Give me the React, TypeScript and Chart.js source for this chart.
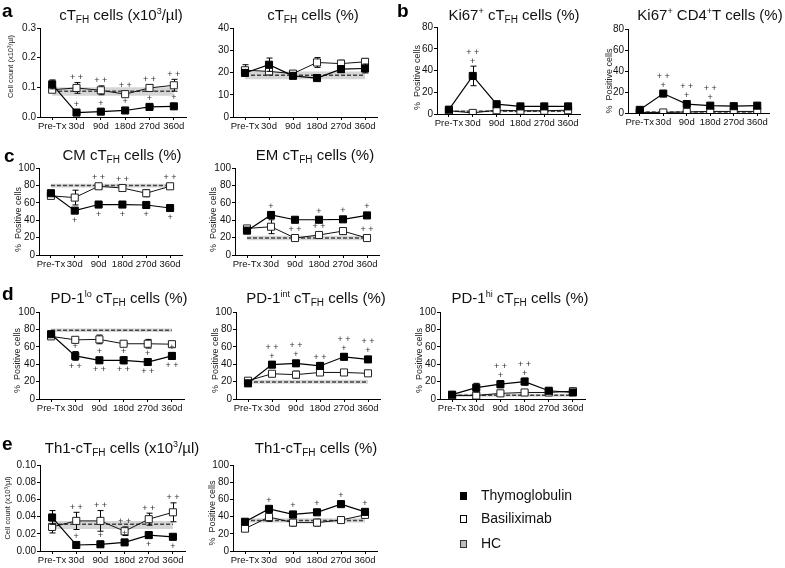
import React, { useEffect, useRef } from "react";
import { Chart, registerables } from "chart.js";

Chart.register(...registerables);

const FONT = '"Liberation Sans", Arial, Helvetica, sans-serif';

const timepoints = ["Pre-Tx", "30d", "90d", "180d", "270d", "360d"];

// a: cTFH cells (x10^3/µl)
const cTfhCountThymo = [0.11, 0.015, 0.018, 0.022, 0.034, 0.036];
const cTfhCountThymoErr = [0.015, 0.004, 0.004, 0.004, 0.005, 0.006];
const cTfhCountBasi = [0.092, 0.098, 0.09, 0.077, 0.098, 0.107];
const cTfhCountBasiErr = [0.008, 0.018, 0.015, 0.007, 0.01, 0.02];
const cTfhCountHC = [0.087, 0.072, 0.1];
const cTfhCountThymoAbove = ["", "+", "+", "+", "+", "+"];
const cTfhCountBasiAbove = ["", "++", "++", "++", "++", "++"];

// a: cTFH cells (%)
const cTfhPctThymo = [19.8, 23.5, 18.5, 17.5, 21.5, 21.8];
const cTfhPctThymoErr = [1.2, 3, 1.2, 1, 1.5, 2];
const cTfhPctBasi = [21, 20.5, 19.5, 24.5, 24, 24.8];
const cTfhPctBasiErr = [2.5, 1.5, 1.2, 2.2, 1.5, 1.5];
const cTfhPctHC = [18.8, 17, 20.5];

// b: Ki67+ cTFH cells (%)
const ki67TfhThymo = [4, 35, 9, 7, 7, 7];
const ki67TfhThymoErr = [1, 9, 1.5, 1, 1, 1];
const ki67TfhBasi = [3, 1, 3.5, 3, 3, 3.5];
const ki67TfhBasiErr = [0.5, 0.5, 1, 0.5, 0.5, 0.5];
const ki67TfhHC = [2.5, 1.5, 3.5];
const ki67TfhThymoAbove = ["", "++\n+", "", "", "", ""];

// b: Ki67+ CD4+T cells (%)
const ki67Cd4Thymo = [3, 18.5, 8.5, 7, 6.5, 7];
const ki67Cd4ThymoErr = [0.8, 1.5, 1, 1, 0.8, 0.8];
const ki67Cd4Basi = [0.5, 0.5, 1, 1.5, 1.5, 1.5];
const ki67Cd4BasiErr = [0.3, 0.3, 0.3, 0.4, 0.4, 0.4];
const ki67Cd4HC = [1, 0.5, 1.5];
const ki67Cd4ThymoAbove = ["", "++\n+", "++\n+", "++\n+", "", ""];

// c: CM cTFH cells (%)
const cmThymo = [71, 51, 58, 58, 57.5, 54];
const cmThymoErr = [2.5, 2, 2, 2, 2, 2.5];
const cmBasi = [68, 66, 79, 77, 71, 79];
const cmBasiErr = [2, 8.5, 2, 1.5, 4, 1.5];
const cmHC = [80, 77.5, 82];
const cmBasiAbove = ["", "", "++", "++", "", "++"];
const cmThymoBelow = ["", "+", "+", "+", "+", "+"];

// c: EM cTFH cells (%)
const emThymo = [28, 46, 40.5, 40.5, 41, 45.5];
const emThymoErr = [2, 4, 2, 2, 2, 2.5];
const emBasi = [30.5, 32.5, 19.5, 23, 27.5, 19.5];
const emBasiErr = [2, 8, 1.5, 1.5, 4, 1];
const emHC = [19.5, 17, 22];
const emThymoAbove = ["", "+", "", "+", "+", "+"];
const emBasiAbove = ["", "", "++", "++", "", "++"];

// d: PD-1lo cTFH cells (%)
const pdLoThymo = [74.5, 49.5, 44.5, 44.5, 42.5, 49.5];
const pdLoThymoErr = [2, 5, 3, 4, 3, 4];
const pdLoBasi = [72, 68, 68.5, 63.5, 63.5, 63];
const pdLoBasiErr = [1.5, 2, 5, 1.5, 5, 3];
const pdLoHC = [79, 77, 81];
const pdLoThymoAbove = ["", "+", "+", "+", "+", "+"];
const pdLoThymoBelow = ["", "++", "++", "++", "++", "++"];

// d: PD-1int cTFH cells (%)
const pdIntThymo = [18, 39.5, 41, 38, 48.5, 45.5];
const pdIntThymoErr = [1.5, 3.5, 3, 4, 3.5, 3];
const pdIntBasi = [21, 29, 28, 30.5, 30.5, 29.5];
const pdIntBasiErr = [1, 1.5, 4, 1.5, 3, 1];
const pdIntHC = [19.5, 17.5, 22];
const pdIntThymoAbove = ["", "++\n+", "++\n+", "++", "++\n+", "++\n+"];

// d: PD-1hi cTFH cells (%)
const pdHiThymo = [5, 13, 17, 20, 9.5, 7.5];
const pdHiThymoErr = [1, 5, 4, 4, 2, 1.5];
const pdHiBasi = [4, 4, 6.5, 7.5, 7.5, 9];
const pdHiBasiErr = [0.8, 1.5, 1, 1.5, 1, 1.5];
const pdHiHC = [4.2, 2.5, 6];
const pdHiThymoAbove = ["", "", "++\n+", "++\n+", "", ""];

// e: Th1-cTFH cells (x10^3/µl)
const th1CountThymo = [0.039, 0.007, 0.0078, 0.01, 0.0185, 0.0165];
const th1CountThymoErr = [0.008, 0.001, 0.0015, 0.002, 0.003, 0.002];
const th1CountBasi = [0.028, 0.035, 0.035, 0.023, 0.037, 0.045];
const th1CountBasiErr = [0.007, 0.01, 0.012, 0.005, 0.007, 0.011];
const th1CountHC = [0.031, 0.0255, 0.035];
const th1CountBasiAbove = ["", "++", "++", "++", "++", "++"];
const th1CountThymoAbove = ["", "+", "+", "+", "", ""];
const th1CountThymoBelow = ["", "", "", "", "+", "+"];

// e: Th1-cTFH cells (%)
const th1PctThymo = [34, 49, 42.5, 45, 54.5, 45.5];
const th1PctThymoErr = [1.5, 2.5, 3, 2.5, 2.5, 2];
const th1PctBasi = [26, 39.5, 33, 33, 36, 42];
const th1PctBasiErr = [1.5, 5, 4, 4, 1.5, 2];
const th1PctHC = [35.5, 33, 38];
const th1PctThymoAbove = ["", "+", "+", "+", "+", "+"];

type Spec = {
  area: [number, number, number, number];
  yMax: number;
  yStep: number;
  decimals: number;
  yTitle?: string;
  yTitleSize?: number;
  yTitleGap?: number;
  yTitleShift?: number;
  thymo: number[];
  thymoErr: number[];
  basi: number[];
  basiErr: number[];
  hc: number[];
  thymoAbove?: string[];
  thymoBelow?: string[];
  basiAbove?: string[];
  basiBelow?: string[];
};

const PCT = "%  Positive cells";
const CNT = "Cell count (x10\u00b3/\u00b5l)";

const specs: Spec[] = [
  { area: [40, 28, 186, 117], yMax: 0.3, yStep: 0.1, decimals: 1, yTitle: CNT, yTitleSize: 7.5, yTitleGap: 29, yTitleShift: -6,
    thymo: cTfhCountThymo, thymoErr: cTfhCountThymoErr, basi: cTfhCountBasi, basiErr: cTfhCountBasiErr, hc: cTfhCountHC,
    thymoAbove: cTfhCountThymoAbove, basiAbove: cTfhCountBasiAbove },
  { area: [233, 28, 377, 117], yMax: 40, yStep: 10, decimals: 0,
    thymo: cTfhPctThymo, thymoErr: cTfhPctThymoErr, basi: cTfhPctBasi, basiErr: cTfhPctBasiErr, hc: cTfhPctHC },
  { area: [437, 27, 580, 114], yMax: 80, yStep: 20, decimals: 0, yTitle: PCT, yTitleGap: 19, yTitleShift: 7,
    thymo: ki67TfhThymo, thymoErr: ki67TfhThymoErr, basi: ki67TfhBasi, basiErr: ki67TfhBasiErr, hc: ki67TfhHC,
    thymoAbove: ki67TfhThymoAbove },
  { area: [628, 29, 769, 113], yMax: 80, yStep: 20, decimals: 0, yTitle: PCT, yTitleGap: 18, yTitleShift: 10,
    thymo: ki67Cd4Thymo, thymoErr: ki67Cd4ThymoErr, basi: ki67Cd4Basi, basiErr: ki67Cd4BasiErr, hc: ki67Cd4HC,
    thymoAbove: ki67Cd4ThymoAbove },
  { area: [39, 168, 182, 255], yMax: 100, yStep: 20, decimals: 0, yTitle: PCT, yTitleGap: 20, yTitleShift: 8,
    thymo: cmThymo, thymoErr: cmThymoErr, basi: cmBasi, basiErr: cmBasiErr, hc: cmHC,
    basiAbove: cmBasiAbove, thymoBelow: cmThymoBelow },
  { area: [235, 168, 379, 255], yMax: 100, yStep: 20, decimals: 0, yTitle: PCT, yTitleGap: 21, yTitleShift: 8,
    thymo: emThymo, thymoErr: emThymoErr, basi: emBasi, basiErr: emBasiErr, hc: emHC,
    thymoAbove: emThymoAbove, basiAbove: emBasiAbove },
  { area: [39, 312, 184, 399], yMax: 100, yStep: 20, decimals: 0, yTitle: PCT, yTitleGap: 21, yTitleShift: 5,
    thymo: pdLoThymo, thymoErr: pdLoThymoErr, basi: pdLoBasi, basiErr: pdLoBasiErr, hc: pdLoHC,
    thymoAbove: pdLoThymoAbove, thymoBelow: pdLoThymoBelow },
  { area: [236, 312, 380, 399], yMax: 100, yStep: 20, decimals: 0, yTitle: PCT, yTitleGap: 20, yTitleShift: 5,
    thymo: pdIntThymo, thymoErr: pdIntThymoErr, basi: pdIntBasi, basiErr: pdIntBasiErr, hc: pdIntHC,
    thymoAbove: pdIntThymoAbove },
  { area: [440, 312, 585, 399], yMax: 100, yStep: 20, decimals: 0, yTitle: PCT, yTitleGap: 20, yTitleShift: 5,
    thymo: pdHiThymo, thymoErr: pdHiThymoErr, basi: pdHiBasi, basiErr: pdHiBasiErr, hc: pdHiHC,
    thymoAbove: pdHiThymoAbove },
  { area: [40, 465, 185, 551], yMax: 0.1, yStep: 0.02, decimals: 2, yTitle: CNT, yTitleSize: 7.5, yTitleGap: 32, yTitleShift: 0,
    thymo: th1CountThymo, thymoErr: th1CountThymoErr, basi: th1CountBasi, basiErr: th1CountBasiErr, hc: th1CountHC,
    thymoAbove: th1CountThymoAbove, thymoBelow: th1CountThymoBelow, basiAbove: th1CountBasiAbove },
  { area: [233, 465, 377, 551], yMax: 100, yStep: 20, decimals: 0, yTitle: PCT, yTitleGap: 20, yTitleShift: 5,
    thymo: th1PctThymo, thymoErr: th1PctThymoErr, basi: th1PctBasi, basiErr: th1PctBasiErr, hc: th1PctHC,
    thymoAbove: th1PctThymoAbove },
];

const PAD_L = 44;
const PAD_R = 14;
const PAD_T = 10;
const PAD_B = 22;

function Panel({ spec }: { spec: Spec }) {
  const ref = useRef<HTMLCanvasElement>(null);
  const [l, t, r, b] = spec.area;
  const w = r - l + PAD_L + PAD_R;
  const h = b - t + PAD_T + PAD_B;

  useEffect(() => {
    const canvas = ref.current!;
    const decor = {
      id: "decor",
      beforeDatasetDraw(chart: any, args: any) {
        const ds = chart.data.datasets[args.index];
        if (!ds.errors) return;
        const ys = chart.scales.y;
        const ctx = chart.ctx;
        ctx.save();
        ctx.strokeStyle = "#000";
        ctx.lineWidth = 1;
        args.meta.data.forEach((pt: any, i: number) => {
          const v = ds.data[i];
          const e = ds.errors[i];
          if (v == null || !e) return;
          const x = Math.round(pt.x) + 0.5;
          const yt = ys.getPixelForValue(v + e);
          const yb = ys.getPixelForValue(v - e);
          ctx.beginPath();
          ctx.moveTo(x, yt);
          ctx.lineTo(x, yb);
          ctx.moveTo(x - 3, yt);
          ctx.lineTo(x + 3, yt);
          ctx.moveTo(x - 3, yb);
          ctx.lineTo(x + 3, yb);
          ctx.stroke();
        });
        ctx.restore();
      },
      afterDatasetsDraw(chart: any) {
        const ctx = chart.ctx;
        const ys = chart.scales.y;
        ctx.save();
        ctx.fillStyle = "#333";
        ctx.font = `9px ${FONT}`;
        ctx.textAlign = "center";
        ctx.textBaseline = "middle";
        const drawMarks = (arr: string[] | undefined, dsIndex: number, above: boolean) => {
          if (!arr) return;
          const ds = chart.data.datasets[dsIndex];
          const meta = chart.getDatasetMeta(dsIndex);
          arr.forEach((s, i) => {
            if (!s) return;
            const pt = meta.data[i];
            const v = ds.data[i];
            const e = ds.errors[i] || 0;
            const lines = s.split("\n");
            if (above) {
              const edge = Math.min(ys.getPixelForValue(v + e), pt.y - 3.5);
              for (let k = 0; k < lines.length; k++) {
                const line = lines[lines.length - 1 - k].split("").join(" ");
                ctx.fillText(line, pt.x, edge - 5 - k * 9);
              }
            } else {
              const edge = Math.max(ys.getPixelForValue(v - e), pt.y + 3.5);
              lines.forEach((ln, k) => {
                ctx.fillText(ln.split("").join(" "), pt.x, edge + 6 + k * 9);
              });
            }
          });
        };
        drawMarks(spec.thymoAbove, 0, true);
        drawMarks(spec.thymoBelow, 0, false);
        drawMarks(spec.basiAbove, 1, true);
        drawMarks(spec.basiBelow, 1, false);
        ctx.restore();
      },
      afterDraw(chart: any) {
        if (!spec.yTitle) return;
        const ctx = chart.ctx;
        const a = chart.chartArea;
        ctx.save();
        ctx.translate(a.left - (spec.yTitleGap || 20), (a.top + a.bottom) / 2 + (spec.yTitleShift || 0));
        ctx.rotate(-Math.PI / 2);
        ctx.fillStyle = "#222";
        ctx.font = `${spec.yTitleSize || 9}px ${FONT}`;
        ctx.textAlign = "center";
        ctx.textBaseline = "middle";
        ctx.fillText(spec.yTitle, 0, 0);
        ctx.restore();
      },
    };

    const axisGrid = {
      display: true,
      drawOnChartArea: false,
      drawTicks: true,
      tickLength: 3,
      color: "#000",
      lineWidth: 1,
      offset: false,
    };

    const chart = new Chart(canvas, {
      type: "line",
      data: {
        labels: timepoints,
        datasets: [
          {
            label: "Thymoglobulin",
            data: spec.thymo,
            errors: spec.thymoErr,
            borderColor: "#000",
            borderWidth: 1.2,
            backgroundColor: "#000",
            pointBackgroundColor: "#000",
            pointBorderColor: "#000",
            pointBorderWidth: 1,
            pointStyle: "rect",
            pointRadius: 5,
            fill: false,
            tension: 0,
          } as any,
          {
            label: "Basiliximab",
            data: spec.basi,
            errors: spec.basiErr,
            borderColor: "#111",
            borderWidth: 1,
            backgroundColor: "#fff",
            pointBackgroundColor: "#fff",
            pointBorderColor: "#222",
            pointBorderWidth: 1,
            pointStyle: "rect",
            pointRadius: 5,
            fill: false,
            tension: 0,
          } as any,
          {
            label: "HC",
            data: timepoints.map(() => spec.hc[0]),
            borderColor: "#444",
            borderDash: [4, 2],
            borderWidth: 1.5,
            pointRadius: 0,
            fill: false,
          },
          {
            label: "HC high",
            data: timepoints.map(() => spec.hc[2]),
            borderWidth: 0,
            borderColor: "rgba(0,0,0,0)",
            backgroundColor: "rgba(185,185,185,0.6)",
            pointRadius: 0,
            fill: "+1",
          },
          {
            label: "HC low",
            data: timepoints.map(() => spec.hc[1]),
            borderWidth: 0,
            borderColor: "rgba(0,0,0,0)",
            pointRadius: 0,
            fill: false,
          },
        ],
      },
      options: {
        animation: false,
        responsive: false,
        devicePixelRatio: 1,
        layout: { padding: { left: 0, right: PAD_R, top: PAD_T, bottom: 0 } },
        plugins: {
          legend: { display: false },
          tooltip: { enabled: false },
          title: { display: false },
        },
        scales: {
          x: {
            type: "category",
            offset: true,
            afterFit: (s: any) => {
              s.height = PAD_B;
            },
            grid: axisGrid,
            border: { display: true, color: "#000", width: 1 },
            ticks: {
              font: { size: 9.5, family: FONT },
              color: "#111",
              padding: 1,
              maxRotation: 0,
              autoSkip: false,
            },
          },
          y: {
            min: 0,
            max: spec.yMax,
            afterFit: (s: any) => {
              s.width = PAD_L;
            },
            grid: axisGrid,
            border: { display: true, color: "#000", width: 1 },
            ticks: {
              stepSize: spec.yStep,
              font: { size: 10, family: FONT },
              color: "#111",
              padding: 1,
              callback: (v: any) => Number(v).toFixed(spec.decimals),
            },
          },
        },
      } as any,
      plugins: [decor],
    });
    return () => chart.destroy();
  }, []);

  return (
    <canvas
      ref={ref}
      width={w}
      height={h}
      style={{ position: "absolute", left: l - PAD_L, top: t - PAD_T, width: w, height: h }}
    />
  );
}

const sub = (s: string) => (
  <span style={{ fontSize: 10, position: "relative", top: 3, lineHeight: 0 }}>{s}</span>
);
const sup = (s: string) => (
  <span style={{ fontSize: 9, position: "relative", top: -6, lineHeight: 0 }}>{s}</span>
);

function Title({ cx, baseline, children }: { cx: number; baseline: number; children: any }) {
  return (
    <div
      style={{
        position: "absolute",
        left: cx - 150,
        width: 300,
        top: baseline - 13,
        textAlign: "center",
        fontSize: 15,
        lineHeight: "15px",
        whiteSpace: "nowrap",
        fontFamily: FONT,
        color: "#111",
      }}
    >
      {children}
    </div>
  );
}

function Letter({ x, baseline, ch }: { x: number; baseline: number; ch: string }) {
  return (
    <div
      style={{
        position: "absolute",
        left: x,
        top: baseline - 16,
        fontSize: 19,
        lineHeight: "19px",
        fontWeight: "bold",
        fontFamily: FONT,
        color: "#000",
      }}
    >
      {ch}
    </div>
  );
}

function LegendItem({ y, fill, border, label }: { y: number; fill: string; border: string; label: string }) {
  return (
    <>
      <div
        style={{
          position: "absolute",
          left: 460,
          top: y - 4,
          width: 7,
          height: 8,
          background: fill,
          border: `1px solid ${border}`,
          boxSizing: "border-box",
        }}
      />
      <div
        style={{
          position: "absolute",
          left: 481,
          top: y - 8,
          fontSize: 14,
          lineHeight: "14px",
          fontFamily: FONT,
          color: "#111",
          whiteSpace: "nowrap",
        }}
      >
        {label}
      </div>
    </>
  );
}

export default function App() {
  return (
    <div
      style={{
        position: "fixed",
        left: 0,
        top: 0,
        width: 785,
        height: 568,
        background: "#fff",
        overflow: "hidden",
        fontFamily: FONT,
      }}
    >
      {specs.map((s, i) => (
        <Panel key={i} spec={s} />
      ))}

      <Letter x={2} baseline={17} ch="a" />
      <Letter x={397} baseline={17} ch="b" />
      <Letter x={4} baseline={162} ch="c" />
      <Letter x={2} baseline={300} ch="d" />
      <Letter x={2} baseline={450} ch="e" />

      <Title cx={121} baseline={20}>cT{sub("FH")} cells (x10{sup("3")}/µl)</Title>
      <Title cx={313} baseline={20}>cT{sub("FH")} cells (%)</Title>
      <Title cx={514} baseline={20}>Ki67{sup("+")} cT{sub("FH")} cells (%)</Title>
      <Title cx={710} baseline={20}>Ki67{sup("+")} CD4{sup("+")}T cells (%)</Title>
      <Title cx={122} baseline={160}>CM cT{sub("FH")} cells (%)</Title>
      <Title cx={315} baseline={160}>EM cT{sub("FH")} cells (%)</Title>
      <Title cx={119} baseline={303}>PD-1{sup("lo")} cT{sub("FH")} cells (%)</Title>
      <Title cx={316} baseline={303}>PD-1{sup("int")} cT{sub("FH")} cells (%)</Title>
      <Title cx={520} baseline={303}>PD-1{sup("hi")} cT{sub("FH")} cells (%)</Title>
      <Title cx={122} baseline={453}>Th1-cT{sub("FH")} cells (x10{sup("3")}/µl)</Title>
      <Title cx={316} baseline={453}>Th1-cT{sub("FH")} cells (%)</Title>

      <LegendItem y={496} fill="#000" border="#000" label="Thymoglobulin" />
      <LegendItem y={519} fill="#fff" border="#000" label="Basiliximab" />
      <LegendItem y={544} fill="#bbb" border="#333" label="HC" />
    </div>
  );
}
